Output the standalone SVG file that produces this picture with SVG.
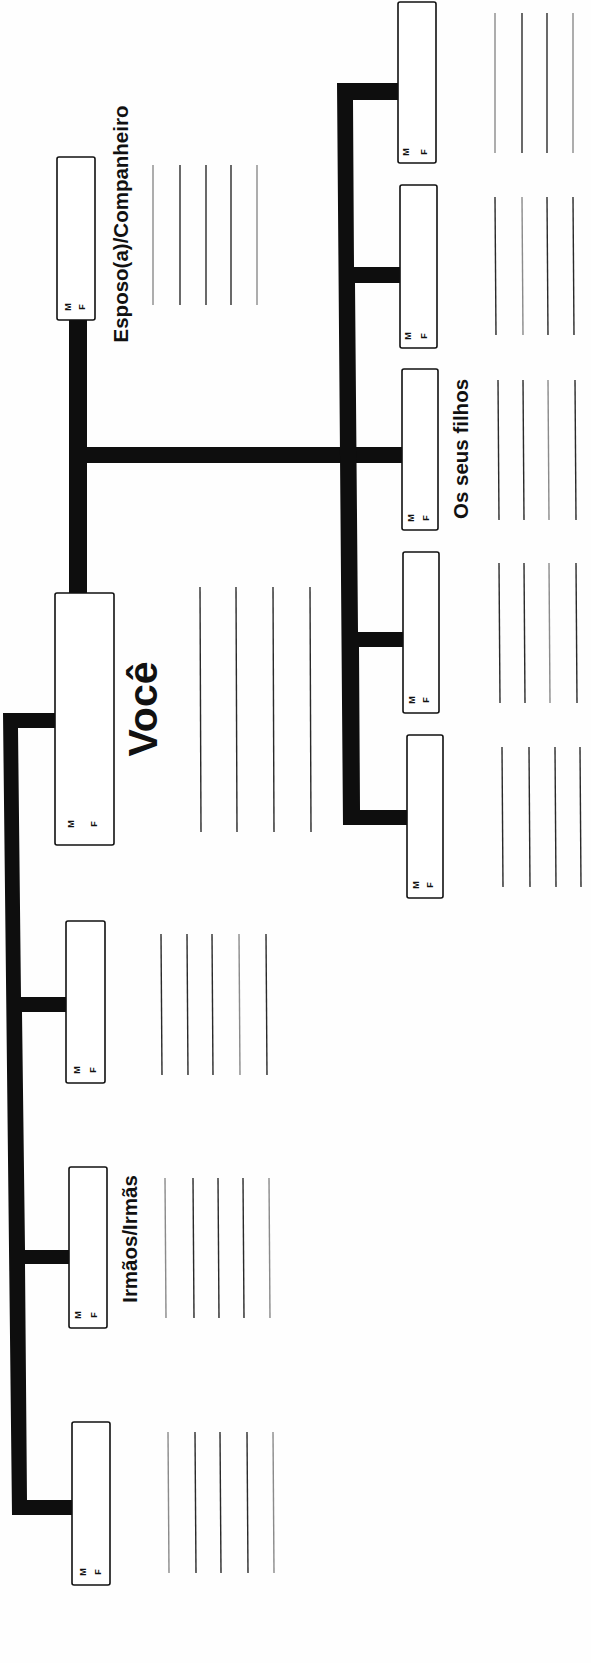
<svg xmlns="http://www.w3.org/2000/svg" width="591" height="1663" viewBox="0 0 591 1663">
<style>
.box{fill:#fff;stroke:#111;stroke-width:1.6}
.ln{stroke:#2a2a2a;stroke-width:1.4}
.lt{stroke:#8a8a8a;stroke-width:1.4}
.bar{fill:#0e0e0e}
.mf{font-family:"Liberation Sans",Arial,sans-serif;font-weight:bold;font-size:9px;fill:#111;text-anchor:middle}
.lbl{font-family:"Liberation Sans",Arial,sans-serif;font-weight:bold;font-size:20.5px;fill:#111;text-anchor:middle}
.big{font-family:"Liberation Sans",Arial,sans-serif;font-weight:bold;font-size:41px;fill:#111;text-anchor:middle}
</style>
<rect x="0" y="0" width="591" height="1663" fill="#fefefe"/>

<g id="connectors">
  <polygon class="bar" points="3,713 55,713 55,728 18,728 21,997 66,997 66,1012 22,1012 25,1250 69,1250 69,1264 25,1264 27,1500 72,1500 72,1515 12,1515"/>
  <rect class="bar" x="69" y="320" width="18" height="273"/>
  <rect class="bar" x="87" y="447" width="315" height="16"/>
  <polygon class="bar" points="337,83 398,83 398,100 353,100 354,267 400,267 400,283 355,283 358,632 403,632 403,647 359,647 360,810 407,810 407,825 343,825"/>
</g>

<g id="spouse">
  <rect class="box" x="57" y="157" width="38" height="163" rx="2"/>
  <text class="mf" transform="translate(71,307) rotate(-90)">M</text>
  <text class="mf" transform="translate(85,307) rotate(-90)">F</text>
  <text class="lbl" transform="translate(128,224) rotate(-90)">Esposo(a)/Companheiro</text>
  <line class="lt" x1="153" y1="165" x2="153" y2="305"/>
  <line class="ln" x1="180" y1="165" x2="180" y2="305"/>
  <line class="ln" x1="206" y1="165" x2="206" y2="305"/>
  <line class="ln" x1="231" y1="165" x2="231" y2="305"/>
  <line class="lt" x1="257" y1="165" x2="257" y2="305"/>
</g>

<g id="voce">
  <rect class="box" x="55" y="593" width="59" height="252" rx="2"/>
  <text class="mf" transform="translate(74,824) rotate(-90)">M</text>
  <text class="mf" transform="translate(97,824) rotate(-90)">F</text>
  <text class="big" transform="translate(157,709) rotate(-90)">Você</text>
  <line class="ln" x1="200" y1="587" x2="201" y2="832"/>
  <line class="ln" x1="236" y1="587" x2="237" y2="832"/>
  <line class="ln" x1="273" y1="587" x2="274" y2="832"/>
  <line class="ln" x1="310" y1="587" x2="311" y2="832"/>
</g>

<g id="sibling1">
  <rect class="box" x="66" y="921" width="39" height="162" rx="2"/>
  <text class="mf" transform="translate(80,1070) rotate(-90)">M</text>
  <text class="mf" transform="translate(96,1070) rotate(-90)">F</text>
  <line class="ln" x1="161" y1="934" x2="162" y2="1075"/>
  <line class="ln" x1="187" y1="934" x2="188" y2="1075"/>
  <line class="ln" x1="212" y1="934" x2="213" y2="1075"/>
  <line class="lt" x1="239" y1="934" x2="240" y2="1075"/>
  <line class="ln" x1="266" y1="934" x2="267" y2="1075"/>
</g>

<g id="sibling2">
  <rect class="box" x="69" y="1167" width="38" height="161" rx="2"/>
  <text class="mf" transform="translate(81,1315) rotate(-90)">M</text>
  <text class="mf" transform="translate(97,1315) rotate(-90)">F</text>
  <text class="lbl" transform="translate(137,1239) rotate(-90)">Irmãos/Irmãs</text>
  <line class="lt" x1="165" y1="1178" x2="166" y2="1318"/>
  <line class="ln" x1="193" y1="1178" x2="194" y2="1318"/>
  <line class="ln" x1="218" y1="1178" x2="219" y2="1318"/>
  <line class="ln" x1="243" y1="1178" x2="244" y2="1318"/>
  <line class="lt" x1="269" y1="1178" x2="270" y2="1318"/>
</g>

<g id="sibling3">
  <rect class="box" x="72" y="1422" width="38" height="163" rx="2"/>
  <text class="mf" transform="translate(86,1572) rotate(-90)">M</text>
  <text class="mf" transform="translate(101,1572) rotate(-90)">F</text>
  <line class="lt" x1="168" y1="1432" x2="169" y2="1573"/>
  <line class="ln" x1="195" y1="1432" x2="196" y2="1573"/>
  <line class="ln" x1="220" y1="1432" x2="221" y2="1573"/>
  <line class="ln" x1="247" y1="1432" x2="248" y2="1573"/>
  <line class="lt" x1="273" y1="1432" x2="274" y2="1573"/>
</g>

<g id="child1">
  <rect class="box" x="398" y="2" width="38" height="161" rx="2"/>
  <text class="mf" transform="translate(409,152) rotate(-90)">M</text>
  <text class="mf" transform="translate(427,152) rotate(-90)">F</text>
  <line class="lt" x1="495" y1="13" x2="495" y2="153"/>
  <line class="ln" x1="522" y1="13" x2="522" y2="153"/>
  <line class="ln" x1="547" y1="13" x2="547" y2="153"/>
  <line class="lt" x1="573" y1="13" x2="573" y2="153"/>
</g>

<g id="child2">
  <rect class="box" x="400" y="185" width="37" height="163" rx="2"/>
  <text class="mf" transform="translate(411,336) rotate(-90)">M</text>
  <text class="mf" transform="translate(427,336) rotate(-90)">F</text>
  <line class="ln" x1="495" y1="197" x2="496" y2="335"/>
  <line class="lt" x1="522" y1="197" x2="523" y2="335"/>
  <line class="ln" x1="547" y1="197" x2="548" y2="335"/>
  <line class="ln" x1="573" y1="197" x2="574" y2="335"/>
</g>

<g id="child3">
  <rect class="box" x="402" y="369" width="36" height="161" rx="2"/>
  <text class="mf" transform="translate(414,518) rotate(-90)">M</text>
  <text class="mf" transform="translate(429,518) rotate(-90)">F</text>
  <text class="lbl" transform="translate(468,449) rotate(-90)">Os seus filhos</text>
  <line class="ln" x1="498" y1="380" x2="499" y2="520"/>
  <line class="ln" x1="523" y1="380" x2="524" y2="520"/>
  <line class="lt" x1="548" y1="380" x2="549" y2="520"/>
  <line class="ln" x1="575" y1="380" x2="576" y2="520"/>
</g>

<g id="child4">
  <rect class="box" x="403" y="552" width="36" height="161" rx="2"/>
  <text class="mf" transform="translate(415,700) rotate(-90)">M</text>
  <text class="mf" transform="translate(429,700) rotate(-90)">F</text>
  <line class="ln" x1="499" y1="563" x2="500" y2="703"/>
  <line class="ln" x1="524" y1="563" x2="525" y2="703"/>
  <line class="lt" x1="549" y1="563" x2="550" y2="703"/>
  <line class="ln" x1="576" y1="563" x2="577" y2="703"/>
</g>

<g id="child5">
  <rect class="box" x="407" y="735" width="36" height="163" rx="2"/>
  <text class="mf" transform="translate(419,885) rotate(-90)">M</text>
  <text class="mf" transform="translate(433,885) rotate(-90)">F</text>
  <line class="ln" x1="502" y1="747" x2="503" y2="887"/>
  <line class="ln" x1="529" y1="747" x2="530" y2="887"/>
  <line class="ln" x1="555" y1="747" x2="556" y2="887"/>
  <line class="ln" x1="580" y1="747" x2="581" y2="887"/>
</g>
</svg>
